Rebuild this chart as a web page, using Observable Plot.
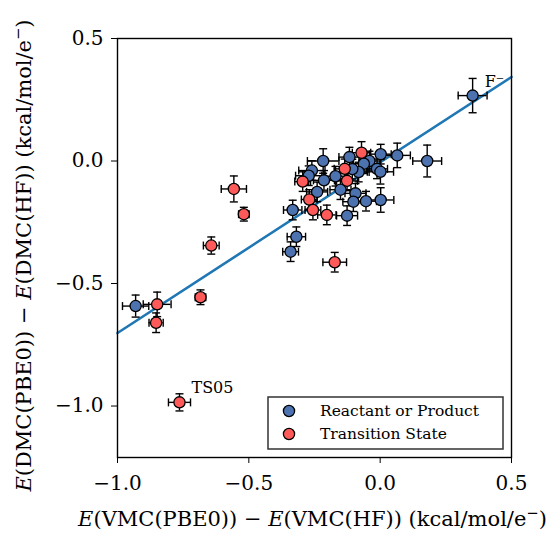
<!DOCTYPE html>
<html>
<head>
<meta charset="utf-8">
<script src="https://cdn.jsdelivr.net/npm/d3@7"></script>
<script src="https://cdn.jsdelivr.net/npm/@observablehq/plot@0.6"></script>
<style>
  html, body { margin: 0; padding: 0; background: #fff; }
  #chart { width: 554px; height: 534px; }
</style>
</head>
<body>
<div id="chart"></div>
<script>
// ---- data ----
const seriesNames = ["Reactant or Product", "Transition State"];
const seriesColors = ["#4c72b0", "#ff5a5a"];

const rpX    = [-0.931, -0.333, -0.319, -0.341, 0.352, 0.179, 0.065, 0.002, -0.117, -0.217, -0.041, -0.062, -0.012, 0.001, -0.082, -0.106, -0.170, -0.214, -0.260, -0.272, -0.240, -0.151, -0.094, -0.102, -0.054, 0.002, -0.126];
const rpY    = [-0.592, -0.200, -0.309, -0.370, 0.267, 0.000, 0.023, 0.028, 0.016, 0.000, 0.000, -0.011, -0.032, -0.044, -0.045, -0.033, -0.062, -0.079, -0.039, -0.060, -0.126, -0.117, -0.132, -0.166, -0.164, -0.159, -0.223];
const rpXErr = [0.050, 0.035, 0.035, 0.030, 0.055, 0.055, 0.050, 0.040, 0.040, 0.060, 0.040, 0.040, 0.040, 0.050, 0.040, 0.040, 0.040, 0.040, 0.050, 0.050, 0.040, 0.040, 0.040, 0.040, 0.040, 0.050, 0.040];
const rpYErr = [0.045, 0.040, 0.040, 0.040, 0.070, 0.065, 0.050, 0.040, 0.040, 0.050, 0.040, 0.040, 0.040, 0.050, 0.040, 0.040, 0.040, 0.040, 0.040, 0.040, 0.040, 0.040, 0.040, 0.040, 0.040, 0.050, 0.040];

const tsX    = [-0.764, -0.849, -0.853, -0.684, -0.643, -0.519, -0.557, -0.173, -0.071, -0.135, -0.126, -0.295, -0.270, -0.256, -0.203];
const tsY    = [-0.985, -0.585, -0.660, -0.556, -0.345, -0.217, -0.114, -0.413, 0.034, -0.032, -0.081, -0.084, -0.157, -0.200, -0.220];
const tsXErr = [0.042, 0.053, 0.027, 0.020, 0.030, 0.020, 0.048, 0.045, 0.035, 0.040, 0.040, 0.030, 0.030, 0.030, 0.035];
const tsYErr = [0.035, 0.050, 0.040, 0.030, 0.035, 0.028, 0.053, 0.040, 0.045, 0.040, 0.040, 0.040, 0.040, 0.040, 0.040];

// fitted line end points
const fitX = [-1.0, 0.5];
const fitY = [-0.702, 0.343];

// annotations
const annText = ["F\u207B", "TS05"];
const annX = [0.352, -0.764];
const annY = [0.267, -0.985];

const xTicks = [-1.0, -0.5, 0.0, 0.5];
const yTicks = [-1.0, -0.5, 0.0, 0.5];

// ---- build tables ----
const rp = rpX.map((x, i) => ({x, y: rpY[i], ex: rpXErr[i], ey: rpYErr[i], s: seriesNames[0]}));
const ts = tsX.map((x, i) => ({x, y: tsY[i], ex: tsXErr[i], ey: tsYErr[i], s: seriesNames[1]}));
const all = rp.concat(ts);
const fit = fitX.map((x, i) => ({x, y: fitY[i]}));
const ann = annText.map((t, i) => ({t, x: annX[i], y: annY[i]}));

const hcap = {draw(ctx, size) { const r = Math.sqrt(size / Math.PI); ctx.moveTo(-r, 0); ctx.lineTo(r, 0); }};
const vcap = {draw(ctx, size) { const r = Math.sqrt(size / Math.PI); ctx.moveTo(0, -r); ctx.lineTo(0, r); }};

const FONT = "DejaVu Serif";
const fmt = d3.format(".1f");

const W = 554, H = 534;
const mL = 117, mR = 43, mT = 38, mB = 77;

const bar = {stroke: "black", strokeWidth: 1.4};
const capOpts = (o) => Object.assign({r: 4, fill: "none", stroke: "black", strokeWidth: 1.4}, o);

const svg = Plot.plot({
  width: W, height: H,
  marginLeft: mL, marginRight: mR, marginTop: mT, marginBottom: mB,
  style: {fontFamily: FONT, fontSize: "20px", color: "black", background: "white", overflow: "visible"},
  x: {domain: [-1.0, 0.5], ticks: xTicks, tickFormat: fmt, tickSize: 6, tickPadding: 12, label: null},
  y: {domain: [-1.21, 0.5], ticks: yTicks, tickFormat: fmt, tickSize: 6, tickPadding: 8, label: null},
  color: {domain: seriesNames, range: seriesColors},
  marks: [
    Plot.line(fit, {x: "x", y: "y", stroke: "#1f77b4", strokeWidth: 2.6}),
    Plot.ruleY(all, {y: "y", x1: d => d.x - d.ex, x2: d => d.x + d.ex, ...bar}),
    Plot.ruleX(all, {x: "x", y1: d => d.y - d.ey, y2: d => d.y + d.ey, ...bar}),
    Plot.dot(all, capOpts({x: "x", y: d => d.y + d.ey, symbol: hcap})),
    Plot.dot(all, capOpts({x: "x", y: d => d.y - d.ey, symbol: hcap})),
    Plot.dot(all, capOpts({x: d => d.x + d.ex, y: "y", symbol: vcap})),
    Plot.dot(all, capOpts({x: d => d.x - d.ex, y: "y", symbol: vcap})),
    Plot.dot(rp, {x: "x", y: "y", r: 5.6, fill: "s", stroke: "black", strokeWidth: 1.3}),
    Plot.dot(ts, {x: "x", y: "y", r: 5.6, fill: "s", stroke: "black", strokeWidth: 1.3}),
    Plot.text(ann, {x: "x", y: "y", text: "t", dx: 12, dy: -14, textAnchor: "start", fontSize: 16, fill: "black"}),
    Plot.frame({stroke: "black", strokeWidth: 1.4})
  ]
});
document.getElementById("chart").appendChild(svg);

const s = d3.select(svg);
const midX = mL + (W - mL - mR) / 2;
const midY = mT + (H - mT - mB) / 2;

function richLabel(sel, parts) {
  parts.forEach(p => {
    const t = sel.append("tspan").text(p.t);
    if (p.i) t.attr("font-style", "italic");
    if (p.sup) t.attr("font-size", "0.7em").attr("baseline-shift", "super");
  });
}
const labelParts = (a) => [
  {t: "E", i: true}, {t: "(DMC(PBE0)) \u2212 ".replace("DMC", a)}, {t: "E", i: true},
  {t: "(DMC(HF)) (kcal/mol/e".replace("DMC", a)}, {t: "\u2212", sup: true}, {t: ")"}
];

const LABEL_SIZE = 21;
const xl = s.append("text")
  .attr("x", (72 + 553) / 2).attr("y", 526)
  .attr("text-anchor", "middle")
  .attr("font-family", FONT).attr("font-size", LABEL_SIZE).attr("fill", "black");
richLabel(xl, labelParts("VMC"));

const yl = s.append("text")
  .attr("transform", `translate(31,${midY + 8}) rotate(-90)`)
  .attr("text-anchor", "middle")
  .attr("font-family", FONT).attr("font-size", LABEL_SIZE).attr("fill", "black");
richLabel(yl, labelParts("DMC"));

// legend
const lg = s.append("g").attr("font-family", FONT).attr("font-size", 15.5).attr("text-anchor", "start");
lg.append("rect").attr("x", 268).attr("y", 397).attr("width", 235).attr("height", 52)
  .attr("fill", "white").attr("stroke", "#333").attr("stroke-width", 1.5);
seriesNames.forEach((name, i) => {
  const cy = 411 + i * 23;
  lg.append("circle").attr("cx", 289).attr("cy", cy).attr("r", 5.6)
    .attr("fill", seriesColors[i]).attr("stroke", "black").attr("stroke-width", 1.3);
  lg.append("text").attr("x", 320).attr("y", cy + 5).attr("fill", "black")
    .attr("text-anchor", "start").text(name);
});
</script>
</body>
</html>
